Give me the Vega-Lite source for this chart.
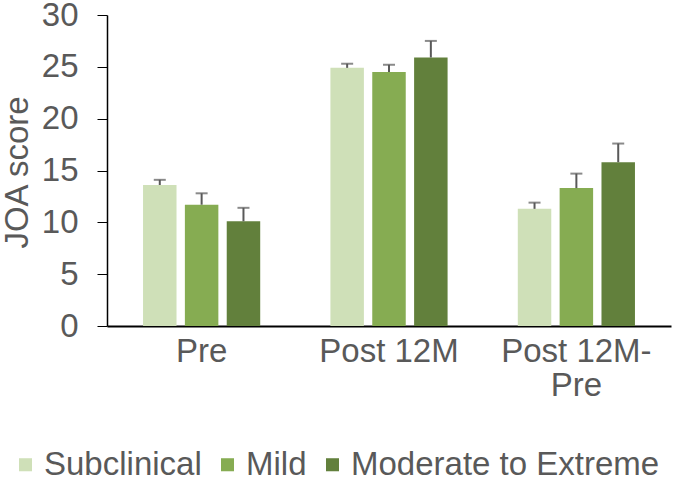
{
  "$schema": "https://vega.github.io/schema/vega-lite/v6.json",
  "autosize": "none",
  "width": 564,
  "height": 311,
  "padding": {"left": 107, "top": 15, "right": 7, "bottom": 153},
  "background": "white",
  "config": {
    "font": "Liberation Sans",
    "view": {"stroke": null},
    "axis": {"labelColor": "#595959", "titleColor": "#595959", "labelFont": "Liberation Sans", "titleFont": "Liberation Sans", "titleFontWeight": "normal"},
    "legend": {"labelColor": "#595959", "labelFont": "Liberation Sans"}
  },
  "data": {
    "values": [
      {"time": "Pre", "group": "Subclinical", "value": 13.6, "upper": 14.1},
      {"time": "Pre", "group": "Mild", "value": 11.7, "upper": 12.8},
      {"time": "Pre", "group": "Moderate to Extreme", "value": 10.1, "upper": 11.4},
      {"time": "Post 12M", "group": "Subclinical", "value": 24.9, "upper": 25.3},
      {"time": "Post 12M", "group": "Mild", "value": 24.5, "upper": 25.2},
      {"time": "Post 12M", "group": "Moderate to Extreme", "value": 25.9, "upper": 27.5},
      {"time": "Post 12M-Pre", "group": "Subclinical", "value": 11.3, "upper": 11.9},
      {"time": "Post 12M-Pre", "group": "Mild", "value": 13.3, "upper": 14.7},
      {"time": "Post 12M-Pre", "group": "Moderate to Extreme", "value": 15.8, "upper": 17.6}
    ]
  },
  "encoding": {
    "x": {
      "field": "time", "type": "nominal", "sort": ["Pre", "Post 12M", "Post 12M-Pre"],
      "scale": {"paddingInner": 0.33, "paddingOuter": 0.17},
      "axis": {
        "title": null, "labelAngle": 0, "labelFontSize": 33, "ticks": false,
        "domainColor": "#000000", "domainWidth": 2, "labelPadding": 9,
        "labelLineHeight": 34, "labelLimit": 0,
        "labelExpr": "datum.label == 'Post 12M-Pre' ? ['Post 12M-', 'Pre'] : datum.label"
      }
    },
    "xOffset": {
      "field": "group", "type": "nominal", "sort": ["Subclinical", "Mild", "Moderate to Extreme"],
      "scale": {"paddingInner": 0.2, "paddingOuter": 0.1}
    }
  },
  "layer": [
    {
      "mark": {"type": "bar"},
      "encoding": {
        "y": {
          "field": "value", "type": "quantitative",
          "scale": {"domain": [0, 30], "nice": false},
          "axis": {
            "title": "JOA score", "titleFontSize": 33, "labelFontSize": 33,
            "values": [0, 5, 10, 15, 20, 25, 30], "grid": false,
            "domainColor": "#000000", "domainWidth": 1.5, "tickColor": "#000000",
            "tickSize": 10, "labelPadding": 19,
            "titleAngle": -90, "titleBaseline": "alphabetic", "titleX": -80, "titleY": 157, "titleAlign": "center"
          }
        },
        "color": {
          "field": "group", "type": "nominal", "sort": ["Subclinical", "Mild", "Moderate to Extreme"],
          "scale": {"domain": ["Subclinical", "Mild", "Moderate to Extreme"], "range": ["#cfe0b8", "#86ac52", "#62803c"]},
          "legend": {
            "title": null, "orient": "none", "direction": "horizontal",
            "legendX": -98, "legendY": 433, "padding": 0,
            "symbolType": "square", "symbolSize": 170, "symbolStrokeWidth": 0,
            "labelFontSize": 33, "labelOffset": 2, "columnPadding": 9, "labelLimit": 0,
            "symbolOpacity": 1
          }
        }
      }
    },
    {
      "mark": {"type": "rule", "color": "#595959", "strokeWidth": 2},
      "encoding": {
        "y": {"field": "value", "type": "quantitative"},
        "y2": {"field": "upper"}
      }
    },
    {
      "mark": {"type": "tick", "color": "#595959", "thickness": 2, "size": 12, "orient": "horizontal"},
      "encoding": {
        "y": {"field": "upper", "type": "quantitative"}
      }
    }
  ]
}
